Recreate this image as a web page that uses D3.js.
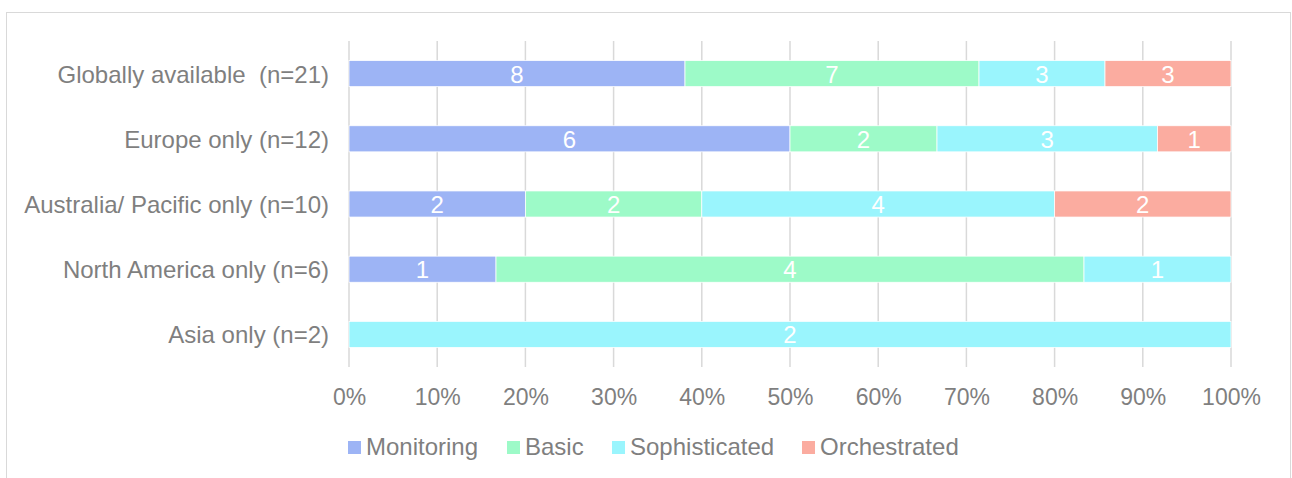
<!DOCTYPE html>
<html><head><meta charset="utf-8">
<script src="https://cdn.jsdelivr.net/npm/d3@7"></script>
<style>body{margin:0;background:#fff;}svg{display:block;font-family:"Liberation Sans",Arial,sans-serif;}text{white-space:pre;}</style>
</head><body><svg id="c" width="1292" height="478"></svg>
<script>
const categories = ["Globally available  (n=21)","Europe only (n=12)","Australia/ Pacific only (n=10)","North America only (n=6)","Asia only (n=2)"];
const seriesNames = ["Monitoring","Basic","Sophisticated","Orchestrated"];
const monitoring = [8,6,2,1,0];
const basic = [7,2,2,4,0];
const sophisticated = [3,3,4,1,2];
const orchestrated = [3,1,2,0,0];
const colors = ["#9db4f5","#9dfac8","#9af5fd","#fbaca0"];
const tickValues = [0,0.1,0.2,0.3,0.4,0.5,0.6,0.7,0.8,0.9,1];

const svg = d3.select("#c");
svg.append("rect").attr("x",6.5).attr("y",12.5).attr("width",1284).attr("height",480).attr("fill","#fff").attr("stroke","#d9d9d9").attr("stroke-width",1);

const x = d3.scaleLinear().domain([0,1]).range([349,1231]);
const y = d3.scaleBand().domain(categories).range([41,367]).paddingInner(0.6).paddingOuter(0.3);

const rows = categories.map((c,i)=>{
  const vals=[monitoring[i],basic[i],sophisticated[i],orchestrated[i]];
  const tot=d3.sum(vals);
  const o={cat:c,total:tot};
  seriesNames.forEach((s,j)=>o[s]=vals[j]/tot);
  seriesNames.forEach((s,j)=>o["n_"+s]=vals[j]);
  return o;
});
const stack = d3.stack().keys(seriesNames)(rows);

// gridlines
svg.append("g").selectAll("line").data(tickValues).join("line")
  .attr("x1",d=>x(d)).attr("x2",d=>x(d)).attr("y1",41).attr("y2",367)
  .attr("stroke","#d9d9d9").attr("stroke-width",1.5);

// bars
stack.forEach((layer,j)=>{
  const g=svg.append("g");
  g.selectAll("rect").data(layer.filter(d=>d[1]-d[0]>0)).join("rect")
    .attr("x",d=>x(d[0])).attr("width",d=>x(d[1])-x(d[0]))
    .attr("y",d=>y(d.data.cat)).attr("height",y.bandwidth())
    .attr("fill",colors[j]).attr("stroke","#fff").attr("stroke-width",0.75);
  g.selectAll("text").data(layer.filter(d=>d[1]-d[0]>0)).join("text")
    .attr("x",d=>(x(d[0])+x(d[1]))/2).attr("y",d=>y(d.data.cat)+y.bandwidth()/2+9)
    .attr("text-anchor","middle").attr("fill","#fff").attr("font-size",24)
    .text(d=>d.data["n_"+layer.key]);
});

// category labels
svg.append("g").selectAll("text").data(categories).join("text")
  .attr("x",329).attr("y",d=>y(d)+y.bandwidth()/2+9).attr("text-anchor","end")
  .attr("fill","#7f7f7f").attr("font-size",24).text(d=>d);

// x axis labels
const xAxis = d3.axisBottom(x).tickValues(tickValues).tickFormat(d3.format(".0%")).tickSize(0).tickPadding(0);
const ax = svg.append("g").attr("transform","translate(0,405)").call(xAxis);
ax.select(".domain").remove();
ax.selectAll("text").attr("fill","#7f7f7f").attr("font-size",23).attr("font-family","Liberation Sans,Arial,sans-serif").attr("dy","0").attr("y",0);

// legend
const legX=[348,507,612,802];
const lg = svg.append("g");
seriesNames.forEach((s,j)=>{
  lg.append("rect").attr("x",legX[j]).attr("y",441).attr("width",13).attr("height",13).attr("fill",colors[j]);
  lg.append("text").attr("x",legX[j]+18).attr("y",455).attr("fill","#7f7f7f").attr("font-size",24).text(s);
});
</script></body></html>
